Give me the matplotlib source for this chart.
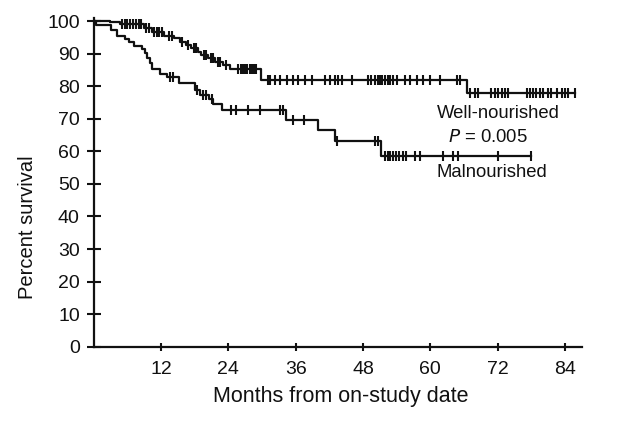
import matplotlib
matplotlib.use("Agg")
import matplotlib.pyplot as plt
import numpy as np

plt.rcParams['font.family'] = ['Liberation Sans', 'DejaVu Sans']

# Kaplan-Meier steps: event times (months) and survival (%) after each step
well_t = [0, 2.9, 4.7, 8.9, 10.4, 12.6, 14.4, 15.3, 16.4, 17.4, 18.6, 19.2, 20.4, 21.6, 23.1, 24.3, 29.9, 66.5]
well_s = [100, 99.7, 99.2, 98.0, 96.6, 95.5, 94.7, 93.7, 92.6, 91.6, 90.6, 89.6, 88.6, 87.5, 86.5, 85.2, 82.0, 78.0]
well_end = 85.8
well_cens = [5.0, 5.5, 6.0, 6.5, 7.0, 7.5, 8.0, 8.5, 9.3, 9.9, 10.7, 11.2, 11.7, 12.2,
             13.5, 14.0, 15.8, 16.8, 17.9, 18.3, 19.6, 20.0, 20.9, 21.2, 22.1, 22.5, 23.5,
             25.8, 26.2, 26.6, 27.0, 27.4, 27.8, 28.2, 28.6, 29.0,
             31.1, 31.4, 32.3, 33.2, 34.4, 35.6, 36.5, 37.7, 38.9, 41.2, 42.1, 43.0, 43.6,
             44.2, 46.0, 48.9, 49.5, 50.1, 50.7, 51.0, 51.4, 51.9, 52.5, 52.8, 53.3, 54.0,
             55.5, 56.4, 57.6, 58.7, 59.9, 61.7, 64.7, 65.3,
             67.1, 68.0, 68.5, 70.9, 71.5, 72.1, 72.7, 73.3, 73.9, 77.2, 77.8, 78.3, 78.9,
             79.5, 80.1, 81.0, 81.6, 82.5, 83.4, 84.0, 84.6, 85.8]

mal_t = [0, 0.5, 3.0, 4.2, 5.6, 6.3, 7.2, 8.7, 9.1, 9.5, 10.0, 10.4, 11.8, 13.0, 15.2,
         18.0, 19.0, 20.5, 21.3, 22.8, 34.3, 40.0, 43.0, 51.3]
mal_s = [100, 98.8, 97.3, 95.5, 94.5, 93.5, 92.4, 91.5, 90.2, 88.8, 87.0, 85.3, 83.9, 82.8,
         80.9, 78.8, 77.3, 76.0, 74.6, 72.6, 69.7, 66.7, 63.3, 58.6]
mal_end = 78.0
mal_cens = [13.6, 14.2, 18.4, 19.5, 20.0, 21.0, 24.5, 25.4, 27.5, 29.6, 33.2, 33.8,
            35.6, 37.4, 43.3, 50.1, 50.7, 51.9, 52.4, 52.9, 53.4, 53.9, 54.5, 55.1, 55.7,
            57.2, 58.1, 62.3, 64.0, 64.9, 72.1, 78.0]

x_ticks = [12, 24, 36, 48, 60, 72, 84]
y_ticks = [0, 10, 20, 30, 40, 50, 60, 70, 80, 90, 100]

ink = "#111111"

fig = plt.figure(figsize=(6.18, 4.25), dpi=100)
ax = fig.add_axes([0.1516, 0.1842, 0.7898, 0.7738])


def draw_curve(t, s, end, cens):
    t = np.asarray(t, float)
    s = np.asarray(s, float)
    ax.step(np.r_[t, end], np.r_[s, s[-1]], where="post", color=ink, lw=1.6)
    cens = np.asarray(cens, float)
    idx = np.searchsorted(t, cens, side="right") - 1
    ax.plot(cens, s[idx], ls="none", marker="|", ms=7.5, mew=1.5, color=ink)


draw_curve(well_t, well_s, well_end, well_cens)
draw_curve(mal_t, mal_s, mal_end, mal_cens)

ax.text(61.1, 71.7, "Well-nourished", fontsize=13.3, color=ink, va="center", ha="left")
ax.text(63.1, 64.1, "$P$ = 0.005", fontsize=13.3, color=ink, va="center", ha="left")
ax.text(61.1, 53.4, "Malnourished", fontsize=13.3, color=ink, va="center", ha="left")

ax.set_xlim(0, 87)
ax.set_ylim(0, 101)
ax.set_xticks(x_ticks)
ax.set_yticks(y_ticks)
ax.spines["top"].set_visible(False)
ax.spines["right"].set_visible(False)
for sp in ("left", "bottom"):
    ax.spines[sp].set_linewidth(1.6)
    ax.spines[sp].set_color(ink)
ax.tick_params(axis="y", direction="inout", length=10, width=1.5, pad=5, labelsize=14, colors=ink)
ax.tick_params(axis="x", direction="inout", length=6, width=1.5, pad=7, labelsize=14, colors=ink)

ax.set_xlabel("Months from on-study date", fontsize=15.5, color=ink, va="center")
ax.xaxis.set_label_coords(0.506, -0.152)
ax.set_ylabel("Percent survival", fontsize=14.5, color=ink, va="center")
ax.yaxis.set_label_coords(-0.135, 0.364)

fig.savefig("out.png", dpi=100)
